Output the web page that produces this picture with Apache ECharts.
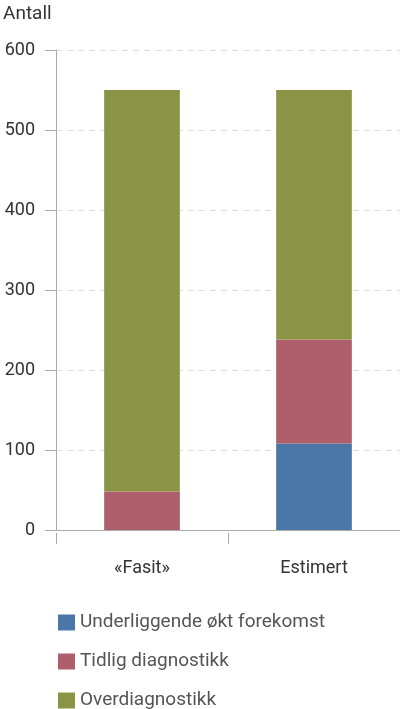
<!DOCTYPE html>
<html>
<head>
<meta charset="utf-8">
<script src="https://cdn.jsdelivr.net/npm/echarts@6/dist/echarts.min.js"></script>
<style>
  html, body { margin: 0; padding: 0; background: #fff; }
  #main { width: 400px; height: 709px; }
</style>
</head>
<body>
<div id="main"></div>
<script>
var categories = ['«Fasit»', 'Estimert'];
var seriesNames = ['Underliggende økt forekomst', 'Tidlig diagnostikk', 'Overdiagnostikk'];
var underliggende = [0, 108];
var tidlig = [48, 130];
var overdiagnostikk = [502, 312];
var yTicks = [0, 100, 200, 300, 400, 500, 600];

var colors = ['#4a76a8', '#ae5f6b', '#8a9444'];
var font = 'Roboto';

var chart = echarts.init(document.getElementById('main'));

chart.setOption({
    animation: false,
    color: colors,
    textStyle: { fontFamily: font },
    title: {
        text: 'Antall',
        left: -2,
        top: 0,
        textStyle: { fontFamily: font, fontSize: 19, fontWeight: 'normal', color: '#333' }
    },
    legend: {
        data: seriesNames,
        orient: 'vertical',
        left: 53,
        top: 608,
        height: 130,
        icon: 'rect',
        itemWidth: 17,
        itemHeight: 16,
        itemGap: 20,
        textStyle: { fontFamily: font, fontSize: 19, color: '#555' }
    },
    grid: { left: 56, right: 0, top: 50, bottom: 179 },
    xAxis: [
        {
            type: 'category',
            data: categories,
            axisLine: { show: true, lineStyle: { color: '#aaa', width: 1 } },
            axisTick: { show: false },
            axisLabel: { show: false }
        },
        {
            type: 'category',
            data: categories,
            position: 'bottom',
            offset: 3,
            axisLine: { show: false },
            axisTick: { show: true, length: 11, lineStyle: { color: '#aaa' } },
            axisLabel: { margin: 26, fontSize: 18, color: '#333', fontFamily: font }
        }
    ],
    yAxis: {
        type: 'value',
        min: yTicks[0],
        max: yTicks[yTicks.length - 1],
        interval: 100,
        axisLine: { show: true, lineStyle: { color: '#aaa' } },
        axisTick: { show: true, length: 11, lineStyle: { color: '#aaa' } },
        axisLabel: { margin: 21, fontSize: 18, color: '#333', fontFamily: font },
        splitLine: { lineStyle: { color: '#ddd', type: [6, 5] } }
    },
    series: [
        { name: seriesNames[0], type: 'bar', stack: 'total', barWidth: '44%', data: underliggende },
        { name: seriesNames[1], type: 'bar', stack: 'total', barWidth: '44%', data: tidlig },
        { name: seriesNames[2], type: 'bar', stack: 'total', barWidth: '44%', data: overdiagnostikk }
    ]
});
</script>
</body>
</html>
